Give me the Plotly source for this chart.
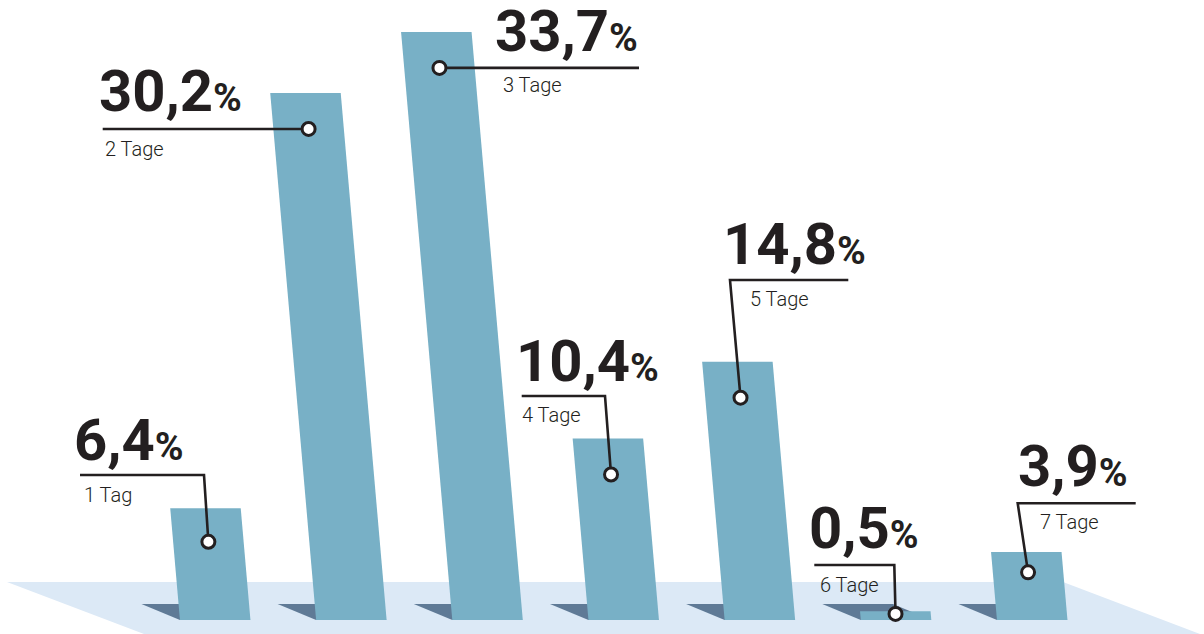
import plotly.graph_objects as go

# ---------------- data ----------------
categories = ["1 Tag", "2 Tage", "3 Tage", "4 Tage", "5 Tage", "6 Tage", "7 Tage"]
values = [6.4, 30.2, 33.7, 10.4, 14.8, 0.5, 3.9]
value_labels = ["6,4", "30,2", "33,7", "10,4", "14,8", "0,5", "3,9"]

# ---------------- layout constants (pixels of the 1204x634 canvas) ----------------
W, H = 1204, 634
X0, DX = 215.2, 136.17      # pixel of first bar base centre, pixel step between bars
BASE_PY, PY = 620.0, 17.45  # pixel of baseline, pixels per percent
BAR_W_PX = 70.5
SLANT_PX = 1.52             # horizontal lean (px) per percent of height
FLOOR_TOP_PY = 582
SHADOW_TOP_PY = 604
SHADOW_LEN_PX = 38.5
NUM_SIZE, PCT_SIZE, SUB_SIZE = 58, 39, 20

# label layout per bar: horizontal leader y, corner x, far end x, number pos, sub pos
line_py   = [475, None, None, 396, 280, 565, 503.3]
corner_px = [204, None, None, 605, 730, 894.3, 1017.7]
end_px    = [80, 102.7, 639, 521.7, 848.3, 814.3, 1135.7]
num_px    = [76, 100.7, 496.7, 518.3, 725, 810.7, 1020]
num_base  = [460.7, 111.7, 51.7, 381.7, 265, 549.3, 486.7]
sub_px    = [85, 105.7, 504, 522.7, 750.7, 820.7, 1041]
sub_base  = [503, 156.7, 93, 423, 307, 593, 530]

BAR_COLOR = "#78b0c6"
SHADOW_COLOR = "#5f7a96"
FLOOR_COLOR = "#dce9f6"
INK = "#231f20"


def px2x(px):
    return (px - X0) / DX


def py2y(py):
    return (BASE_PY - py) / PY


w = BAR_W_PX / DX
s = SLANT_PX / DX

fig = go.Figure()

# floor
fx = [px2x(7), px2x(1063), px2x(1063 + 137 * 1.6), px2x(7 + 137 * 1.6), px2x(7)]
fy = [py2y(FLOOR_TOP_PY), py2y(FLOOR_TOP_PY), py2y(FLOOR_TOP_PY + 52 * 1.6),
      py2y(FLOOR_TOP_PY + 52 * 1.6), py2y(FLOOR_TOP_PY)]
fig.add_trace(go.Scatter(x=fx, y=fy, fill="toself", fillcolor=FLOOR_COLOR,
                         mode="none", hoverinfo="skip"))

# shadows
sh = SHADOW_LEN_PX / DX
for i, v in enumerate(values):
    bl = i - w / 2
    ty = py2y(SHADOW_TOP_PY)
    fig.add_trace(go.Scatter(
        x=[bl - sh, bl + w - sh, bl + w, bl, bl - sh],
        y=[ty, ty, 0, 0, ty],
        fill="toself", fillcolor=SHADOW_COLOR, mode="none", hoverinfo="skip"))

# bars (slanted parallelograms)
for i, v in enumerate(values):
    bl = i - w / 2
    br = i + w / 2
    fig.add_trace(go.Scatter(
        x=[bl, br, br - s * v, bl - s * v, bl],
        y=[0, 0, v, v, 0],
        fill="toself", fillcolor=BAR_COLOR, mode="none",
        name=categories[i], hoverinfo="name"))

# leader lines, dots and labels
dot_x, dot_y = [], []
for i, v in enumerate(values):
    dy = v - min(2.06, 0.3 * v)
    dx = i - s * dy
    dot_x.append(dx)
    dot_y.append(dy)
    if line_py[i] is None:
        lx = [dx, px2x(end_px[i])]
        ly = [dy, dy]
    else:
        ly_val = py2y(line_py[i])
        lx = [dx, px2x(corner_px[i]), px2x(end_px[i])]
        ly = [dy, ly_val, ly_val]
    fig.add_trace(go.Scatter(x=lx, y=ly, mode="lines",
                             line=dict(color=INK, width=2.6), hoverinfo="skip"))

fig.add_trace(go.Scatter(x=dot_x, y=dot_y, mode="markers",
                         marker=dict(size=13, color="white",
                                     line=dict(color=INK, width=3)),
                         hoverinfo="skip"))

for i, v in enumerate(values):
    fig.add_annotation(
        x=px2x(num_px[i] - 3), y=py2y(num_base[i] + 0.244 * NUM_SIZE),
        xref="x", yref="y", xanchor="left", yanchor="bottom",
        text=f"{value_labels[i]}<span style='font-size:{PCT_SIZE}px'>%</span>",
        showarrow=False, borderpad=0,
        font=dict(family="Roboto", size=NUM_SIZE, color=INK, weight=700))
    fig.add_annotation(
        x=px2x(sub_px[i] - 2), y=py2y(sub_base[i] + 0.244 * SUB_SIZE),
        xref="x", yref="y", xanchor="left", yanchor="bottom",
        text=categories[i], showarrow=False, borderpad=0,
        font=dict(family="Roboto", size=SUB_SIZE, color=INK, weight=300))

fig.update_layout(
    width=W, height=H,
    margin=dict(l=0, r=0, t=0, b=0),
    paper_bgcolor="white", plot_bgcolor="white",
    showlegend=False,
    xaxis=dict(range=[px2x(0), px2x(W)], visible=False, fixedrange=True),
    yaxis=dict(range=[py2y(H), py2y(0)], visible=False, fixedrange=True),
)

fig.write_html("out.html")
